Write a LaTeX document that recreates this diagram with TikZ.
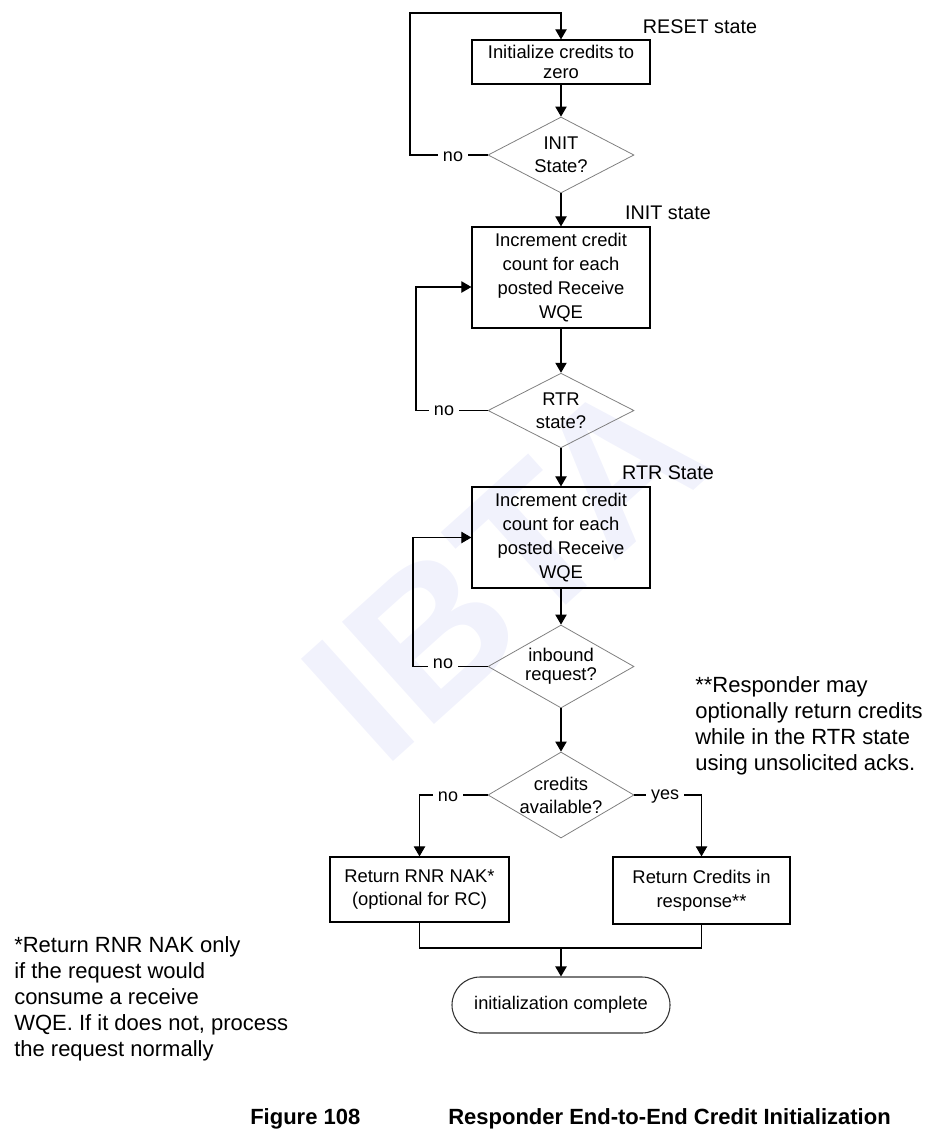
\documentclass[tikz,border=0pt]{standalone}
\usepackage{fontspec}
\setmainfont{Liberation Sans}
\usetikzlibrary{arrows.meta, shapes.geometric, positioning, calc}
\definecolor{watermark}{HTML}{F1F2FC}
\definecolor{diamondgray}{HTML}{808080}
\tikzset{
  process box/.style={rectangle, draw=black, line width=0.9pt, align=center, inner sep=0pt, font=\fontsize{13.8}{17.8}\selectfont},
  decision/.style={diamond, draw=diamondgray, line width=0.6pt, inner sep=0pt, minimum width=109.5pt},
  decision text/.style={align=center, inner sep=0pt, font=\fontsize{13.8}{17.3}\selectfont},
  terminator/.style={rectangle, rounded corners=21pt, draw=black!80, line width=0.8pt, minimum width=163.5pt, minimum height=42pt, font=\fontsize{13.7}{17.6}\selectfont},
  flow/.style={line width=0.8pt, ->},
  joint/.style={line width=0.8pt},
  branch label/.style={fill=white, inner xsep=4pt, inner ysep=1pt, font=\fontsize{13.5}{16}\selectfont},
  state label/.style={font=\fontsize{14.8}{17}\selectfont},
  note/.style={align=left, inner sep=0pt, anchor=north west, font=\fontsize{16.5}{19.5}\selectfont},
  caption/.style={anchor=west, inner sep=0pt, font=\fontsize{16.5}{19}\selectfont\bfseries}
}

\begin{document}
\begin{tikzpicture}[x=0.75pt, y=-0.75pt, >={Triangle[width=8.5pt, length=7.5pt]}]
  \useasboundingbox (0,0) rectangle (925,1138);

  % --- Watermark behind the chart ---
  \node[rotate=42, text=watermark, font=\fontsize{150}{150}\selectfont\bfseries] (mark) at (505,568) {IBTA};

  % --- RESET state ---
  \node[process box, minimum width=133.5pt, minimum height=33pt, font=\fontsize{13.8}{14.5}\selectfont] (init) at (561,62) {Initialize credits to\\zero};
  \node[state label] (resetlbl) at (700,27) {RESET state};
  \node[decision, minimum height=57pt, label={[decision text]center:INIT\\State?}] (initq) at (561,155) {};

  % --- INIT state ---
  \node[state label] (initlbl) at (668,213) {INIT state};
  \node[process box, minimum width=133.5pt, minimum height=75.75pt] (countA) at (561,277.5) {Increment credit\\count for each\\posted Receive\\WQE};
  \node[decision, minimum height=56pt, label={[decision text]center:RTR\\state?}] (rtrq) at (561,410.5) {};

  % --- RTR state ---
  \node[state label] (rtrlbl) at (668,473) {RTR State};
  \node[process box, minimum width=133.5pt, minimum height=75.75pt] (countB) at (561,537.5) {Increment credit\\count for each\\posted Receive\\WQE};
  \node[decision, minimum height=62.25pt, label={[decision text, font=\fontsize{13.8}{14.5}\selectfont]center:inbound\\request?}] (inq) at (561,666.5) {};
  \node[decision, minimum height=64.5pt, label={[decision text]center:credits\\available?}] (credq) at (561,795) {};

  % --- Responses ---
  \node[process box, minimum width=134.25pt, minimum height=48.75pt] (rnr) at (419.5,889.5) {Return RNR NAK*\\(optional for RC)};
  \node[process box, minimum width=132.75pt, minimum height=50.25pt] (ret) at (701.5,890.5) {Return Credits in\\response**};
  \node[terminator] (done) at (561,1005) {initialization complete};

  % Corner points of the loops
  \coordinate (loopA) at (410,13);
  \coordinate (loopB) at (416,287);
  \coordinate (loopC) at (413,537.5);
  \coordinate (merge) at (561,948);

  % --- Straight flow ---
  \draw[flow] (init.south) -- (initq.north);
  \draw[flow] (initq.south) -- (countA.north);
  \draw[flow] (countA.south) -- (rtrq.north);
  \draw[flow] (rtrq.south) -- (countB.north);
  \draw[flow] (countB.south) -- (inq.north);
  \draw[flow] (inq.south) -- (credq.north);

  % --- "no" loops back ---
  \draw[flow] (initq.west) -| (loopA) -| (init.north);
  \draw[flow] (rtrq.west) -| (loopB) -- (loopB -| countA.west);
  \draw[flow] (inq.west) -| (loopC) -- (countB.west);

  % --- Branches ---
  \draw[flow] (credq.west) -| (rnr.north);
  \draw[flow] (credq.east) -| (ret.north);
  \draw[joint] (rnr.south) |- (merge);
  \draw[joint] (ret.south) |- (merge);
  \draw[flow] (merge) -- (done.north);

  % Branch labels
  \node[branch label] (noA) at (453,157) {no};
  \node[branch label] (noB) at (444,410.5) {no};
  \node[branch label] (noC) at (443,664) {no};
  \node[branch label] (noD) at (448,797) {no};
  \node[branch label] (yesD) at (665,797) {yes};

  % --- Notes ---
  \node[note] (respnote) at (695,676) {**Responder may\\optionally return credits\\while in the RTR state\\using unsolicited acks.};
  \node[note] (rnrnote) at (14,936) {*Return RNR NAK only\\if the request would\\consume a receive\\WQE. If it does not, process\\the request normally};

  % --- Caption ---
  \node[caption] (fignum) at (250,1119) {Figure 108};
  \node[caption] (figtitle) at (448,1119) {Responder End-to-End Credit Initialization};
\end{tikzpicture}
\end{document}
